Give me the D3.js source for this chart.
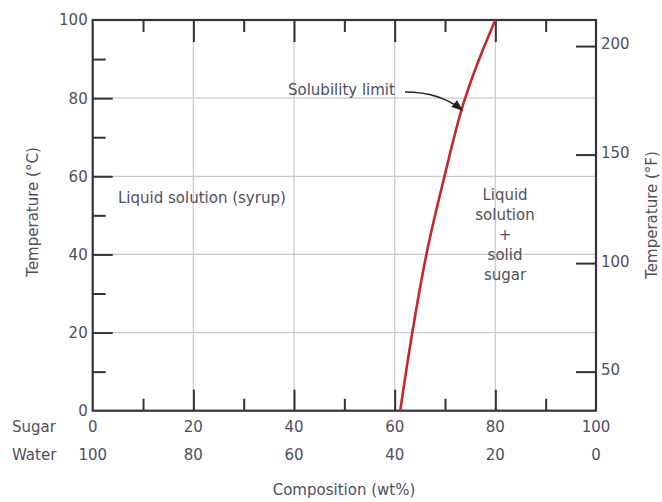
<!DOCTYPE html>
<html>
<head>
<meta charset="utf-8">
<script src="https://cdn.jsdelivr.net/npm/d3@7"></script>
<style>
  body { margin: 0; background: #fff; }
  text { font-family: "DejaVu Sans", sans-serif; fill: #4f4f5e; }
</style>
</head>
<body>
<script>
// solubility limit of sugar in water: temperature (C) vs sugar wt%
var tempC = [0, 20, 40, 60, 80, 90, 100];
var sugarWt = [61.1, 63.5, 66.3, 69.9, 74.0, 76.8, 80.0];

var majorTicks = [20, 40, 60, 80];
var minorTicks = [10, 30, 50, 70, 90];
var sugarLabels = [0, 20, 40, 60, 80, 100];
var fTicks = [50, 100, 150, 200];

var width = 662, height = 502;
var pLeft = 92.7, pRight = 596, pTop = 20, pBottom = 410.7;

var svg = d3.select('body').append('svg')
  .attr('width', width)
  .attr('height', height);

var x = d3.scaleLinear().domain([0, 100]).range([pLeft, pRight]);
var y = d3.scaleLinear().domain([0, 100]).range([pBottom, pTop]);
var yF = d3.scaleLinear().domain([32, 212]).range([pBottom, pTop]);

// grid
svg.append('g').selectAll('line')
  .data(majorTicks).enter().append('line')
  .attr('x1', d => x(d)).attr('x2', d => x(d))
  .attr('y1', pTop).attr('y2', pBottom)
  .attr('stroke', '#c9c9cf').attr('stroke-width', 1.2);
svg.append('g').selectAll('line')
  .data(majorTicks).enter().append('line')
  .attr('x1', pLeft).attr('x2', pRight)
  .attr('y1', d => y(d)).attr('y2', d => y(d))
  .attr('stroke', '#c9c9cf').attr('stroke-width', 1.2);

function styleAxis(g) {
  g.select('.domain').remove();
  g.selectAll('.tick line').attr('stroke', '#333').attr('stroke-width', 2);
  g.selectAll('.tick text').remove();
}

// ticks (inside)
svg.append('g').attr('transform', 'translate(0,' + pBottom + ')')
  .call(d3.axisBottom(x).tickValues(majorTicks).tickSize(-21)).call(styleAxis);
svg.append('g').attr('transform', 'translate(0,' + pBottom + ')')
  .call(d3.axisBottom(x).tickValues(minorTicks).tickSize(-12)).call(styleAxis);
svg.append('g').attr('transform', 'translate(0,' + pTop + ')')
  .call(d3.axisTop(x).tickValues(majorTicks).tickSize(-22)).call(styleAxis);
svg.append('g').attr('transform', 'translate(0,' + pTop + ')')
  .call(d3.axisTop(x).tickValues(minorTicks).tickSize(-12)).call(styleAxis);
svg.append('g').attr('transform', 'translate(' + pLeft + ',0)')
  .call(d3.axisLeft(y).tickValues(majorTicks).tickSize(-20)).call(styleAxis);
svg.append('g').attr('transform', 'translate(' + pLeft + ',0)')
  .call(d3.axisLeft(y).tickValues(minorTicks).tickSize(-13)).call(styleAxis);
svg.append('g').attr('transform', 'translate(' + pRight + ',0)')
  .call(d3.axisRight(yF).tickValues(fTicks).tickSize(-20)).call(styleAxis);

// frame
svg.append('rect')
  .attr('x', pLeft).attr('y', pTop)
  .attr('width', pRight - pLeft).attr('height', pBottom - pTop)
  .attr('fill', 'none').attr('stroke', '#333').attr('stroke-width', 2.2);

// tick labels
svg.append('g').selectAll('text')
  .data([0].concat(majorTicks, [100])).enter().append('text')
  .attr('x', pLeft - 5).attr('y', d => y(d))
  .attr('dy', '0.36em').attr('text-anchor', 'end')
  .attr('font-size', 15).text(d => d);

svg.append('g').selectAll('text')
  .data(fTicks).enter().append('text')
  .attr('x', pRight + 5).attr('y', d => yF(d) - 2)
  .attr('dy', '0.36em').attr('text-anchor', 'start')
  .attr('font-size', 15).text(d => d);

svg.append('g').selectAll('text')
  .data(sugarLabels).enter().append('text')
  .attr('x', d => x(d)).attr('y', 427)
  .attr('dy', '0.36em').attr('text-anchor', 'middle')
  .attr('font-size', 15).text(d => d);

svg.append('g').selectAll('text')
  .data(sugarLabels).enter().append('text')
  .attr('x', d => x(d)).attr('y', 455)
  .attr('dy', '0.36em').attr('text-anchor', 'middle')
  .attr('font-size', 15).text(d => 100 - d);

svg.append('text').attr('x', 12).attr('y', 427).attr('dy', '0.36em')
  .attr('font-size', 15).text('Sugar');
svg.append('text').attr('x', 12).attr('y', 455).attr('dy', '0.36em')
  .attr('font-size', 15).text('Water');

// axis titles
svg.append('text').attr('x', 344).attr('y', 490).attr('dy', '0.36em')
  .attr('text-anchor', 'middle').attr('font-size', 15).text('Composition (wt%)');
svg.append('text')
  .attr('transform', 'translate(33,212) rotate(-90)')
  .attr('dy', '0.36em').attr('text-anchor', 'middle')
  .attr('font-size', 15).text('Temperature (°C)');
svg.append('text')
  .attr('transform', 'translate(652,215) rotate(-90)')
  .attr('dy', '0.36em').attr('text-anchor', 'middle')
  .attr('font-size', 15).text('Temperature (°F)');

// solubility curve
var pts = tempC.map((t, i) => [sugarWt[i], t]);
var line = d3.line()
  .x(d => x(d[0])).y(d => y(d[1]))
  .curve(d3.curveMonotoneY);
svg.append('path')
  .datum(pts)
  .attr('d', line)
  .attr('fill', 'none')
  .attr('stroke', '#c4262e')
  .attr('stroke-width', 2.6);

// region labels
svg.append('text').attr('x', 118).attr('y', 198).attr('dy', '0.36em')
  .attr('font-size', 15).text('Liquid solution (syrup)');

var rightLabel = ['Liquid', 'solution', '+', 'solid', 'sugar'];
svg.append('g').selectAll('text')
  .data(rightLabel).enter().append('text')
  .attr('x', 505).attr('y', (d, i) => 195 + i * 20)
  .attr('dy', '0.36em').attr('text-anchor', 'middle')
  .attr('font-size', 15).text(d => d);

// annotation
svg.append('defs').append('marker')
  .attr('id', 'arr').attr('viewBox', '0 0 10 10')
  .attr('refX', 9).attr('refY', 5)
  .attr('markerWidth', 9).attr('markerHeight', 7)
  .attr('orient', 'auto')
  .append('path').attr('d', 'M0,1 L10,5 L0,9 Z').attr('fill', '#222');

svg.append('text').attr('x', 288).attr('y', 90).attr('dy', '0.36em')
  .attr('font-size', 15).text('Solubility limit');

svg.append('path')
  .attr('d', 'M405,92 Q440,92 462,110')
  .attr('fill', 'none').attr('stroke', '#222').attr('stroke-width', 1.6)
  .attr('marker-end', 'url(#arr)');
</script>
</body>
</html>
